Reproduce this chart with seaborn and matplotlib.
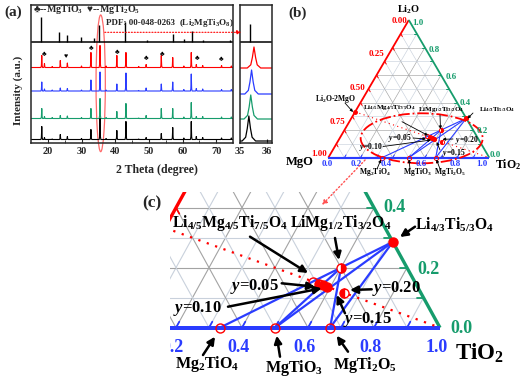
import matplotlib
matplotlib.use("Agg")
import numpy as np
import pandas as pd
import matplotlib.pyplot as plt
import seaborn as sns
from matplotlib.patches import Ellipse, FancyArrowPatch

sns.set_style("ticks")
plt.rcParams["font.family"] = ["Liberation Serif", "DejaVu Sans"]
plt.rcParams["font.weight"] = "bold"
plt.rcParams["mathtext.fontset"] = "custom"
plt.rcParams["mathtext.rm"] = "Liberation Serif:bold"
plt.rcParams["mathtext.it"] = "Liberation Serif:italic:bold"
plt.rcParams["mathtext.bf"] = "Liberation Serif:bold"
plt.rcParams["mathtext.default"] = "rm"

RED = "#ff0000"
BLUE = "#2a3cff"
GREEN = "#169c6c"
W, H = 520, 383

# ---------------------------------------------------------------- XRD data
peak_pos = [18.2, 19.0, 21.3, 23.7, 25.8, 30.0, 32.8, 35.5, 37.3, 40.5, 43.2,
            47.0, 49.2, 53.7, 57.1, 60.4, 62.6, 64.1, 66.0, 71.6, 74.5]
h_red   = [12, 4, 1, 7, 4.5, 1.5, 15, 22, 1.5, 12, 15, 1, 3, 12, 10, 1.5, 15, 3, 2, 2, 1.5]
h_blue  = [9, 2, 1, 3, 2.5, 1, 11, 19, 1, 7, 18, 0.5, 3, 7, 9, 1.5, 17, 2.5, 2, 1.5, 1.5]
h_green = [10, 2, 1, 3, 2.5, 1, 10, 20, 1, 7, 15, 0.5, 3, 10, 10, 1.5, 16, 2, 2, 1.5, 1.5]
h_black = [13, 2, 0.5, 5, 3, 1, 10, 21, 1, 9, 18, 0.5, 2, 6, 12, 1.5, 18, 3, 2, 1.5, 1.5]
samples = ["s1", "s2", "s3", "s4"]
sample_colors = [RED, BLUE, GREEN, "black"]
baselines = [75.5, 52.0, 24.5, 3.5]

inset_pos = [35.52, 35.43, 35.40, 35.33]
inset_h = [21, 24, 24, 25]
inset_base = [75, 49, 24, 2]

ref_pos = [18.0, 23.3, 25.8, 29.9, 33.6, 35.2, 43.0, 49.5, 57.1, 60.5, 62.7, 66.0, 74.2]
ref_h = [25, 10, 7.3, 5, 4, 17, 20, 2.5, 8.5, 3, 11, 2.5, 2.5]
ref_base = 100.7
inset_ref_pos = [35.37]
inset_ref_h = [18]

mk_pos = [19.0, 25.3, 32.9, 40.6, 49.3, 54.0, 64.2, 71.6]
mk_sym = ["\u2663", "\u2665", "\u2663", "\u2663", "\u2663", "\u2663", "\u2663", "\u2663"]
mk_y = [85.7, 84.0, 92.3, 88.0, 82.0, 85.7, 82.0, 80.7]

# ---------------------------------------------------------------- ternary data
phase_names = ["Mg2TiO4", "MgTiO3", "MgTi2O5", "Li43", "LiMg12", "Li45",
               "y05", "y10", "y15", "y20"]
phase_TiO2 = [0.333, 0.5, 0.667, 0.714, 0.6, 0.538, 0.56, 0.575, 0.59, 0.65]
phase_Li2O = [0.0, 0.0, 0.0, 0.286, 0.2, 0.154, 0.147, 0.142, 0.137, 0.117]
phase_fill = ["none", "none", "none", "full", "right", "none", "left", "full", "full", "left"]
tie_lines = [("Mg2TiO4", "Li43"), ("MgTiO3", "Li43"), ("MgTiO3", "LiMg12"),
             ("MgTi2O5", "LiMg12"), ("MgTi2O5", "Li43")]
join_TiO2 = [0.0, 1.0]
join_Li2O = [0.333, 0.0]


def tern(T, L):
    return T + L / 2.0, L


def build_traces(pos_list, heights, bases, lo, hi):
    dx = [-0.25, -0.12, -0.06, 0.0, 0.06, 0.12, 0.25]
    rel = [0.0, 0.15, 0.5, 1.0, 0.5, 0.15, 0.0]
    rows = []
    for name, hts, base, pos in zip(samples, heights, bases, pos_list):
        rows.append((name, lo, base))
        for p, h in sorted(zip(pos, hts)):
            if p - 0.25 <= lo or p + 0.25 >= hi:
                continue
            for d, r in zip(dx, rel):
                rows.append((name, p + d, base + h * r))
        rows.append((name, hi, base))
    return pd.DataFrame(rows, columns=["sample", "two_theta", "intensity"])


fig = plt.figure(figsize=(W / 100, H / 100), dpi=100)


def fbox(x0, y0, x1, y1):
    return [x0 / W, 1 - y1 / H, (x1 - x0) / W, (y1 - y0) / H]


def fpt(x, y):
    return (x / W, 1 - y / H)


# ================================================================ panel (a)
ax_a = fig.add_axes(fbox(31, 5, 233, 143))
ax_in = fig.add_axes(fbox(240, 5, 272, 143))
df_main = build_traces([peak_pos] * 4, [h_red, h_blue, h_green, h_black], baselines, 15, 75)
sns.lineplot(data=df_main, x="two_theta", y="intensity", hue="sample",
             palette=dict(zip(samples, sample_colors)), estimator=None, sort=False,
             legend=False, lw=0.8, ax=ax_a)
df_in = build_traces([[p] for p in inset_pos], [[h] for h in inset_h], inset_base, 35, 36.19)
sns.lineplot(data=df_in, x="two_theta", y="intensity", hue="sample",
             palette=dict(zip(samples, sample_colors)), estimator=None, sort=False,
             legend=False, lw=0.9, ax=ax_in)
ax_a.vlines(ref_pos, ref_base, [ref_base + h for h in ref_h], color="black", lw=1.0)
ax_in.vlines(inset_ref_pos, ref_base, [ref_base + h for h in inset_ref_h], color="black", lw=1.0)
for ax, lo, hi in [(ax_a, 15, 75), (ax_in, 35, 36.19)]:
    ax.axhline(ref_base, color="black", lw=1.1)
    ax.set_xlim(lo, hi)
    ax.set_ylim(0, 138)
    ax.set_yticks([])
    ax.set_xlabel("")
    ax.set_ylabel("")
    for s in ax.spines.values():
        s.set_linewidth(1.1)
        s.set_visible(True)
    ax.tick_params(axis="x", direction="in", length=3, width=0.8, labelsize=7.5, pad=3)
ax_a.set_xticks([20, 30, 40, 50, 60, 70])
ax_a.set_xticks([25, 35, 45, 55, 65], minor=True)
ax_a.tick_params(axis="x", which="minor", direction="in", length=2)
ax_in.set_xticks([35, 36])
for p, s, y in zip(mk_pos, mk_sym, mk_y):
    ax_a.text(p, y, s, fontsize=5, ha="center", va="bottom", color="black")
ax_a.add_patch(Ellipse((35.7, 59.7), 2.76, 136.7, fill=False, ec="#ff6a6a", lw=0.9, clip_on=False))

fig.text(*fpt(13, 12), "(a)", fontsize=11, ha="center", va="center")
fig.text(*fpt(18, 90), "Intensity (a.u.)", fontsize=8, rotation=90, ha="center", va="center")
fig.text(*fpt(157, 170), "2 Theta (degree)", fontsize=8.5, ha="center", va="center")
fig.text(*fpt(33, 9.5), "\u2663--MgTiO$_3$  \u2665--MgTi$_2$O$_5$", fontsize=7.2, ha="left", va="center")
fig.text(*fpt(140, 22.7), "PDF: 00-048-0263", fontsize=6.5, ha="center", va="center")
fig.text(*fpt(206, 22.7), "(Li$_2$MgTi$_3$O$_8$)", fontsize=6.5, ha="center", va="center")
fig.add_artist(FancyArrowPatch(fpt(102, 32.3), fpt(244, 32.3), transform=fig.transFigure,
                               arrowstyle="-|>", mutation_scale=6, color=RED, lw=0.8, ls=":"))


# ================================================================ ternary helper
def draw_ternary(ax, grid_lw, edge_lw, tick_len, tie_lw, ms, mew):
    for k in range(1, 10):
        f = k / 10.0
        col = "#c9d1dc" if k % 2 else "#a3a3a3"
        # constant Li2O
        x0, y0 = tern(0, f); x1, y1 = tern(1 - f, f)
        ax.plot([x0, x1], [y0, y1], color=col, lw=grid_lw, zorder=1)
        # constant TiO2
        x0, y0 = tern(f, 0); x1, y1 = tern(f, 1 - f)
        ax.plot([x0, x1], [y0, y1], color=col, lw=grid_lw, zorder=1)
        # constant MgO
        x0, y0 = tern(1 - f, 0); x1, y1 = tern(0, 1 - f)
        ax.plot([x0, x1], [y0, y1], color=col, lw=grid_lw, zorder=1)
        # edge ticks
        ax.plot([f, f + 0.5 * tick_len], [0, tick_len], color=BLUE, lw=grid_lw * 1.6, zorder=3)
        xr, yr = tern(1 - f, f)
        ax.plot([xr, xr - tick_len], [yr, yr], color=GREEN, lw=grid_lw * 1.6, zorder=3)
        xl, yl = tern(0, f)
        ax.plot([xl, xl + 0.5 * tick_len], [yl, yl - tick_len], color=RED, lw=grid_lw * 1.6, zorder=3)
    ax.plot([0, 0.5], [0, 1], color=RED, lw=edge_lw, zorder=4, solid_capstyle="butt")
    ax.plot([0.5, 1], [1, 0], color=GREEN, lw=edge_lw, zorder=4, solid_capstyle="butt")
    ax.plot([0, 1], [0, 0], color=BLUE, lw=edge_lw * 1.2, zorder=4, solid_capstyle="butt")
    jx, jy = tern(np.array(join_TiO2), np.array(join_Li2O))
    ax.plot(jx, jy, color=RED, lw=tie_lw, ls=(0, (1, 3)), zorder=5)
    idx = {n: i for i, n in enumerate(phase_names)}
    for a, b in tie_lines:
        xa, ya = tern(phase_TiO2[idx[a]], phase_Li2O[idx[a]])
        xb, yb = tern(phase_TiO2[idx[b]], phase_Li2O[idx[b]])
        ax.plot([xa, xb], [ya, yb], color=BLUE, lw=tie_lw, zorder=5)
    for T, L, fs in zip(phase_TiO2, phase_Li2O, phase_fill):
        x, y = tern(T, L)
        if fs == "none":
            ax.plot(x, y, "o", ms=ms, mfc="none", mec=RED, mew=mew, zorder=6)
        else:
            ax.plot(x, y, "o", ms=ms, fillstyle=fs, mfc=RED, mfcalt="white", mec=RED, mew=mew, zorder=6)
    ax.axis("off")


def arrow(ax, conv, tail, tip, lw, ms):
    ax.annotate("", xy=conv(*tip), xytext=conv(*tail),
                arrowprops=dict(arrowstyle="-|>", color="black", lw=lw, mutation_scale=ms,
                                shrinkA=0, shrinkB=0), zorder=8)


# ================================================================ panel (b)
ax_b = fig.add_axes(fbox(280, 0, 520, 190))


def bconv(px, py):
    return (px - 328.3) / 161.0, (157.7 - py) / 137.7


ax_b.set_xlim(bconv(280, 0)[0], bconv(520, 0)[0])
ax_b.set_ylim(bconv(0, 190)[1], bconv(0, 0)[1])
draw_ternary(ax_b, grid_lw=0.45, edge_lw=1.3, tick_len=0.02, tie_lw=0.8, ms=3.0, mew=0.7)
ax_b.add_patch(Ellipse((0.58, 0.141), 0.758, 0.363, fill=False, ec=RED, lw=1.3, ls="-.", zorder=7))
ax_b.plot(*tern(0.0, 0.333), "o", ms=2.5, color=RED, zorder=6)


def btext(px, py, s, fs, color="black", ha="center"):
    ax_b.text(*bconv(px, py), s, fontsize=fs, color=color, ha=ha, va="center", zorder=9)


fig.text(*fpt(298, 13), "(b)", fontsize=11, ha="center", va="center")
btext(409, 10, "Li$_2$O", 7.5)
btext(300, 162, "MgO", 9)
btext(508, 165, "TiO$_2$", 8.5)
for s, (px, py) in zip(["0.00", "0.25", "0.50", "0.75", "1.00"],
                       [(400, 20.7), (376.7, 54), (357, 88), (337, 121.7), (319, 153.5)]):
    btext(px, py, s, 6.5, RED)
for s, (px, py) in zip(["1.0", "0.8", "0.6", "0.4", "0.2", "0.0"],
                       [(418, 23), (434, 50), (450.7, 76.7), (465, 103), (482, 130.7), (495, 155)]):
    btext(px, py, s, 6.5, GREEN)
for s, px in zip(["0.0", "0.2", "0.4", "0.6", "0.8", "1.0"], [327, 356, 386, 421, 455, 482]):
    btext(px, 163.5, s, 6.5, BLUE)
btext(336, 98.7, "Li$_2$O-2MgO", 5.5)
btext(389, 108, "Li$_{4/5}$Mg$_{4/5}$Ti$_{7/5}$O$_4$", 5)
btext(441, 110, "LiMg$_{1/2}$Ti$_{3/2}$O$_4$", 5)
btext(497, 110, "Li$_{4/3}$Ti$_{5/3}$O$_4$", 5)
btext(400, 137.7, "$\\mathit{y}$=0.05", 5.5)
btext(371, 147, "$\\mathit{y}$=0.10", 5.5)
btext(467, 139.5, "$\\mathit{y}$=0.20", 5.5)
btext(454, 153.3, "$\\mathit{y}$=0.15", 5.5)
btext(375, 172, "Mg$_2$TiO$_4$", 5.5)
btext(417, 172, "MgTiO$_3$", 5.5)
btext(450, 172, "MgTi$_2$O$_5$", 5.5)
for tail, tip in [((345, 103), (353, 112)), ((402, 121.7), (428, 135.5)), ((440, 115), (440.5, 129)),
                  ((473, 113), (467.5, 118.5)), ((413, 138), (426, 139)), ((383, 146.5), (431, 140)),
                  ((453, 139), (442.5, 139.3)), ((440, 150), (436.7, 142)), ((377, 169), (381, 159.5)),
                  ((410, 169), (409, 159.5)), ((440, 169), (436.5, 159.5))]:
    arrow(ax_b, bconv, tail, tip, 0.6, 4)

# connection from (b) to (c)
fig.add_artist(FancyArrowPatch(fpt(367, 158), fpt(320, 207), transform=fig.transFigure,
                               arrowstyle="-|>", mutation_scale=7, color="#ff5050", lw=1.0, ls=":"))

# ================================================================ panel (c)
ax_c = fig.add_axes(fbox(170, 192, 520, 383))


def cconv(px, py):
    return (px - 110) / 330.0, (327.7 - py) / 300.0


ax_c.set_xlim(cconv(170, 0)[0], cconv(520, 0)[0])
ax_c.set_ylim(cconv(0, 383)[1], cconv(0, 192)[1])
draw_ternary(ax_c, grid_lw=0.8, edge_lw=2.4, tick_len=0.02, tie_lw=1.6, ms=6.5, mew=1.0)


def ctext(px, py, s, fs, color="black", ha="left", va="baseline", clip=False):
    ax_c.text(*cconv(px, py), s, fontsize=fs, color=color, ha=ha, va=va, zorder=9, clip_on=clip)


fig.text(*fpt(152, 203), "(c)", fontsize=12.5, ha="center", va="center")
ctext(172, 226.7, "Li$_{4/5}$Mg$_{4/5}$Ti$_{7/5}$O$_4$", 11.3)
ctext(290, 226.7, "LiMg$_{1/2}$Ti$_{3/2}$O$_4$", 11.3)
ctext(415, 230, "Li$_{4/3}$Ti$_{5/3}$O$_4$", 11.3)
ctext(230, 290, "$\\mathit{y}$=0.05", 12)
ctext(173, 311.7, "$\\mathit{y}$=0.10", 12)
ctext(372, 291.7, "$\\mathit{y}$=0.20", 12)
ctext(343, 323.3, "$\\mathit{y}$=0.15", 12)
ctext(175, 367.5, "Mg$_2$TiO$_4$", 11.5)
ctext(265, 371.7, "MgTiO$_3$", 11.5)
ctext(333, 369.3, "MgTi$_2$O$_5$", 11.5)
ctext(455, 360, "TiO$_2$", 16.5)
for s, px in zip(["0.2", "0.4", "0.6", "0.8", "1.0"], [172.3, 238.3, 304.3, 370.3, 436.3]):
    ctext(px, 352.5, s, 13, BLUE, ha="center", clip=True)
for s, (px, py) in zip(["0.4", "0.2", "0.0"], [(383, 211.7), (417, 274), (450, 333.3)]):
    ctext(px, py, s, 13, GREEN)
for tail, tip in [((250, 236.7), (308, 273)), ((335, 238), (339, 260)), ((415, 226.7), (400, 237)),
                  ((281.7, 283.3), (315, 286.7)), ((228, 306.7), (321.7, 288.3)),
                  ((371.7, 289.3), (350, 290)), ((345, 313.3), (336.7, 295)),
                  ((203, 355), (215, 336.7)), ((280, 356.7), (276.7, 335.7)),
                  ((348, 351.7), (336.7, 335.7))]:
    arrow(ax_c, cconv, tail, tip, 1.8, 11)

fig.savefig("out.png", dpi=100)
